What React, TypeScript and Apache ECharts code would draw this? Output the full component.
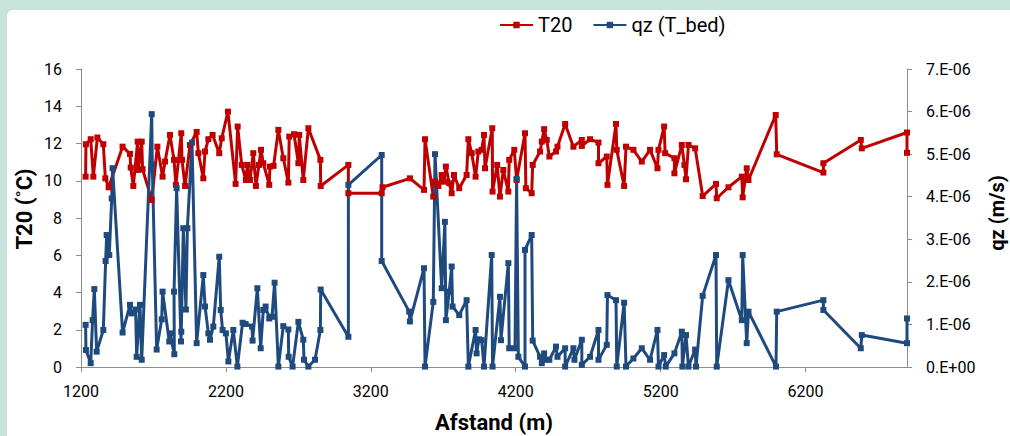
import React, { useEffect, useRef } from "react";
import * as echarts from "echarts";

// Afstand (m) vs T20 (°C)
const t20Data: [number, number][] = [
  [1232, 10.22], [1234, 11.96], [1267, 12.23], [1285, 10.22], [1313, 12.32], [1354, 11.96], [1368, 10.13], [1391, 9.65],
  [1487, 11.83], [1538, 11.44], [1543, 10.71], [1561, 9.72], [1591, 12.1], [1596, 10.58], [1619, 12.1], [1625, 10.62],
  [1688, 8.97], [1727, 11.83], [1763, 10.22], [1780, 11.03], [1814, 12.46], [1842, 11.12], [1855, 9.78], [1892, 12.55],
  [1897, 11.12], [1918, 9.72], [1952, 11.92], [1998, 12.62], [2010, 11.48], [2044, 10.13], [2056, 11.57], [2079, 12.23],
  [2108, 12.46], [2154, 11.48], [2171, 12.28], [2214, 13.71], [2267, 9.83], [2281, 12.91], [2309, 10.85], [2338, 10.04],
  [2348, 10.85], [2366, 10.04], [2389, 11.48], [2407, 9.72], [2428, 10.85], [2442, 11.66], [2458, 10.94], [2499, 9.78],
  [2504, 10.76], [2529, 10.8], [2562, 12.73], [2596, 11.21], [2631, 9.9], [2637, 12.37], [2670, 12.5], [2700, 10.94],
  [2706, 12.46], [2734, 10.04], [2769, 12.82], [2852, 11.12], [2854, 9.72], [3045, 10.85], [3045, 9.33], [3275, 9.33],
  [3281, 9.65], [3470, 10.13], [3567, 9.51], [3574, 12.23], [3631, 9.15], [3643, 9.95], [3666, 9.72], [3689, 10.31],
  [3705, 9.95], [3718, 10.76], [3741, 9.87], [3758, 9.33], [3774, 10.31], [3810, 9.6], [3861, 10.31], [3873, 12.23],
  [3896, 11.48], [3923, 10.22], [3942, 11.57], [3965, 11.66], [3981, 12.46], [3988, 10.67], [4038, 12.82], [4040, 9.42],
  [4072, 10.85], [4091, 9.15], [4114, 10.58], [4149, 9.42], [4155, 11.12], [4190, 11.66], [4206, 10.04], [4264, 12.55],
  [4270, 9.6], [4310, 9.33], [4317, 10.85], [4368, 11.57], [4380, 12.1], [4396, 12.77], [4414, 12.19], [4432, 11.3],
  [4478, 11.57], [4488, 11.83], [4541, 13.05], [4598, 11.83], [4656, 12.19], [4656, 11.87], [4713, 12.23], [4771, 12.05],
  [4771, 10.94], [4828, 11.3], [4833, 9.78], [4892, 13.05], [4897, 11.66], [4948, 9.72], [4961, 11.83], [5012, 11.66],
  [5070, 11.03], [5127, 11.66], [5178, 10.67], [5185, 11.66], [5224, 12.91], [5231, 11.48], [5295, 11.21], [5295, 10.4],
  [5346, 11.92], [5364, 10.85], [5375, 10.08], [5392, 11.92], [5438, 11.74], [5490, 9.18], [5582, 9.83], [5587, 9.06],
  [5668, 9.65], [5760, 10.22], [5766, 9.11], [5794, 10.67], [5806, 10.04], [5994, 13.53], [6001, 11.42], [6323, 10.44],
  [6323, 10.94], [6581, 12.19], [6588, 11.74], [6900, 12.59], [6900, 11.5],
];

// Afstand (m) vs qz (T_bed), in units of 1E-06 m/s
const qzData: [number, number][] = [
  [1232, 0.99], [1234, 0.4], [1267, 0.09], [1280, 1.1], [1292, 1.83], [1308, 0.36], [1354, 0.87], [1370, 2.49],
  [1377, 3.1], [1395, 2.63], [1412, 3.96], [1418, 4.67], [1487, 0.81], [1538, 1.46], [1550, 1.26], [1577, 1.35],
  [1584, 0.24], [1607, 1.46], [1619, 0.17], [1688, 5.94], [1692, 4.75], [1722, 0.41], [1757, 1.12], [1763, 1.77],
  [1809, 0.6], [1814, 0.79], [1844, 0.3], [1842, 1.77], [1860, 4.2], [1890, 0.6], [1892, 0.83], [1906, 3.26],
  [1924, 1.35], [1934, 3.26], [1966, 5.27], [1998, 0.56], [2044, 2.16], [2056, 1.42], [2079, 0.79], [2090, 0.64],
  [2113, 0.95], [2154, 2.59], [2164, 1.34], [2177, 0.87], [2200, 0.79], [2217, 0.13], [2251, 0.87], [2279, 0.01],
  [2315, 1.04], [2336, 1.01], [2380, 0.95], [2384, 0.62], [2417, 1.85], [2440, 0.44], [2458, 1.34], [2474, 1.42],
  [2499, 1.14], [2518, 1.18], [2536, 1.98], [2562, 0.01], [2596, 0.96], [2631, 0.88], [2633, 0.24], [2660, 0.01],
  [2700, 1.06], [2734, 0.64], [2739, 0.17], [2769, 0.01], [2815, 0.17], [2852, 0.87], [2854, 1.82], [3045, 0.71],
  [3045, 4.28], [3275, 4.98], [3275, 2.49], [3465, 1.3], [3470, 1.07], [3567, 2.32], [3574, 0.01], [3631, 1.53],
  [3643, 5.0], [3689, 1.85], [3711, 3.41], [3718, 1.1], [3741, 1.77], [3758, 2.36], [3764, 1.42], [3810, 1.22],
  [3861, 1.57], [3873, 0.01], [3923, 0.87], [3930, 0.32], [3946, 0.65], [3965, 0.63], [3981, 0.01], [4034, 2.63],
  [4040, 0.01], [4091, 1.65], [4098, 0.63], [4149, 2.44], [4155, 0.44], [4195, 0.44], [4206, 4.42], [4218, 0.24],
  [4264, 0.01], [4264, 2.75], [4310, 3.1], [4317, 0.62], [4368, 0.24], [4380, 0.09], [4396, 0.32], [4409, 0.17],
  [4432, 0.17], [4478, 0.48], [4488, 0.24], [4541, 0.44], [4541, 0.01], [4598, 0.44], [4605, 0.17], [4656, 0.64],
  [4656, 0.05], [4713, 0.24], [4771, 0.87], [4771, 0.17], [4828, 0.52], [4833, 1.69], [4892, 1.57], [4897, 0.01],
  [4948, 1.51], [4961, 0.01], [5012, 0.2], [5070, 0.44], [5127, 0.17], [5178, 0.87], [5185, 0.01], [5224, 0.28],
  [5235, 0.01], [5295, 0.32], [5346, 0.83], [5350, 0.01], [5375, 0.75], [5392, 0.01], [5438, 0.41], [5444, 0.01],
  [5490, 1.67], [5582, 2.63], [5587, 0.01], [5668, 2.04], [5760, 1.1], [5766, 2.63], [5794, 0.56], [5806, 1.3],
  [5996, 0.01], [6001, 1.3], [6323, 1.57], [6323, 1.34], [6581, 0.44], [6588, 0.75], [6900, 0.56], [6900, 1.14],
];

const seriesNames = ["T20", "qz (T_bed)"];
const xTickLabels = ["1200", "2200", "3200", "4200", "5200", "6200"];
const xTitle = "Afstand (m)";
const yLeftTitle = "T20 (˚C)";
const yRightTitle = "qz (m/s)";

const FONT = "Roboto, 'Noto Sans', sans-serif";
const RED = "#C00000";
const BLUE = "#1F4A7E";
const AXIS = "#8C8C8C";

export default function App() {
  const ref = useRef<HTMLDivElement>(null);

  useEffect(() => {
    if (!ref.current) return;
    const chart = echarts.init(ref.current, null, { renderer: "svg" });
    chart.setOption({
      animation: false,
      grid: { left: 81, right: 103, top: 69, bottom: 69 },
      legend: {
        data: seriesNames,
        left: 499,
        top: 15,
        padding: 0,
        itemWidth: 33,
        itemHeight: 8,
        itemGap: 20,
        selectedMode: false,
        textStyle: { fontFamily: FONT, fontSize: 20, color: "#000" },
      },
      xAxis: {
        type: "value",
        min: 1200,
        max: 6900,
        interval: 1000,
        splitLine: { show: false },
        axisLine: { show: true, lineStyle: { color: AXIS, width: 1 } },
        axisTick: { show: true, length: 5, lineStyle: { color: AXIS } },
        axisLabel: {
          fontFamily: FONT,
          fontSize: 16,
          color: "#000",
          margin: 16,
          showMaxLabel: false,
          formatter: (v: number) => (xTickLabels.includes(String(v)) ? String(v) : ""),
        },
      },
      yAxis: [
        {
          type: "value",
          min: 0,
          max: 16,
          interval: 2,
          position: "left",
          splitLine: { show: false },
          axisLine: { show: true, lineStyle: { color: AXIS, width: 1 } },
          axisTick: { show: true, length: 5, lineStyle: { color: AXIS } },
          axisLabel: { fontFamily: FONT, fontSize: 16, color: "#000", margin: 19 },
        },
        {
          type: "value",
          min: 0,
          max: 7,
          interval: 1,
          position: "right",
          splitLine: { show: false },
          axisLine: { show: true, lineStyle: { color: AXIS, width: 1 } },
          axisTick: { show: true, length: 5, lineStyle: { color: AXIS } },
          axisLabel: {
            fontFamily: FONT,
            fontSize: 16,
            color: "#000",
            margin: 19,
            formatter: (v: number) => (v === 0 ? "0.E+00" : `${Math.round(v)}.E-06`),
          },
        },
      ],
      graphic: [
        {
          type: "text",
          x: 24,
          y: 209,
          rotation: Math.PI / 2,
          style: {
            text: yLeftTitle,
            fontFamily: FONT,
            fontSize: 22,
            fontWeight: "bold",
            fill: "#000",
            textAlign: "center",
            textVerticalAlign: "middle",
          },
        },
        {
          type: "text",
          x: 997,
          y: 213,
          rotation: Math.PI / 2,
          style: {
            text: yRightTitle,
            fontFamily: FONT,
            fontSize: 20,
            fontWeight: "bold",
            fill: "#000",
            textAlign: "center",
            textVerticalAlign: "middle",
          },
        },
        {
          type: "text",
          x: 494,
          y: 422,
          style: {
            text: xTitle,
            fontFamily: FONT,
            fontSize: 22,
            fontWeight: "bold",
            fill: "#000",
            textAlign: "center",
            textVerticalAlign: "middle",
          },
        },
      ],
      series: [
        {
          name: seriesNames[0],
          type: "line",
          yAxisIndex: 0,
          data: t20Data,
          symbol: "rect",
          symbolSize: 6,
          clip: true,
          lineStyle: { color: RED, width: 3 },
          itemStyle: { color: RED },
        },
        {
          name: seriesNames[1],
          type: "line",
          yAxisIndex: 1,
          data: qzData,
          symbol: "rect",
          symbolSize: 6,
          clip: true,
          lineStyle: { color: BLUE, width: 3 },
          itemStyle: { color: BLUE },
        },
      ],
    });
    return () => chart.dispose();
  }, []);

  return (
    <div style={{ position: "fixed", left: 0, top: 0, width: 1010, height: 436, background: "#C8E4DA", overflow: "hidden" }}>
      <div style={{ position: "absolute", left: 7, top: 10, right: 0, bottom: 0, background: "#FFFFFF", borderTopLeftRadius: 6 }} />
      <div ref={ref} style={{ position: "absolute", left: 0, top: 0, width: 1010, height: 436 }} />
    </div>
  );
}
